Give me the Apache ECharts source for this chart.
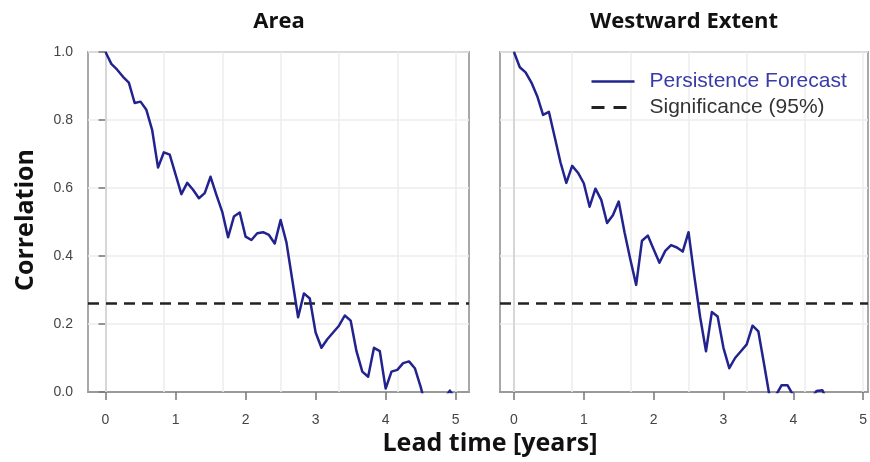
<!DOCTYPE html>
<html>
<head>
<meta charset="utf-8">
<script src="https://cdn.jsdelivr.net/npm/echarts@6/dist/echarts.min.js"></script>
<style>
  html, body { margin: 0; padding: 0; background: #fff; }
  #chart { width: 870px; height: 462px; }
</style>
</head>
<body>
<div id="chart"></div>
<script>
// monthly lead times, 0..60 months
var areaCorr = [
  1.00, 0.965, 0.948, 0.927, 0.91, 0.85, 0.854, 0.83, 0.77, 0.66,
  0.705, 0.698, 0.64, 0.582, 0.615, 0.595, 0.57, 0.585, 0.633, 0.58,
  0.53, 0.455, 0.516, 0.528, 0.457, 0.447, 0.467, 0.47, 0.462, 0.437,
  0.506, 0.44, 0.33, 0.22, 0.29, 0.275, 0.175, 0.13, 0.155, 0.175,
  0.195, 0.225, 0.21, 0.12, 0.06, 0.045, 0.13, 0.12, 0.01, 0.06,
  0.065, 0.085, 0.09, 0.07, 0.015, -0.05, -0.08, -0.06, -0.02, 0.004,
  -0.02
]
var westCorr = [
  1.00, 0.955, 0.94, 0.91, 0.87, 0.815, 0.824, 0.75, 0.675, 0.615,
  0.665, 0.645, 0.614, 0.545, 0.598, 0.565, 0.497, 0.52, 0.56, 0.47,
  0.39, 0.315, 0.445, 0.46, 0.42, 0.38, 0.415, 0.432, 0.425, 0.413,
  0.47, 0.34, 0.22, 0.12, 0.235, 0.222, 0.13, 0.07, 0.10, 0.12,
  0.14, 0.195, 0.178, 0.08, -0.02, -0.01, 0.02, 0.02, -0.01, -0.05,
  -0.04, -0.02, 0.003, 0.005, -0.03, -0.05, -0.06, -0.05, -0.05, -0.05,
  -0.05
]
var significance = 0.26
var xTicks = [0, 1, 2, 3, 4, 5]
var gridMonths = [0, 10, 20, 30, 40, 50, 60]
var panelTitles = ['Area', 'Westward Extent']

var lineColor = '#23238f'
var labelFont = 'Liberation Sans, Arial, sans-serif'
var titleFont = '"Open Sans", Lato, sans-serif'

function toPairs(arr) {
  return arr.map(function (v, m) { return [m / 12, v] })
}

var ranges = [[-0.25, 5.19], [-0.2, 5.07]]
var grids = [
  { left: 88, top: 52, width: 381, height: 340 },
  { left: 500, top: 52, width: 368, height: 340 }
]

var xAxes = [], yAxes = [], series = []
grids.forEach(function (g, i) {
  g.show = true
  g.borderColor = '#a8a8a8'
  g.borderWidth = 2
  xAxes.push({
    type: 'value', gridIndex: i, min: ranges[i][0], max: ranges[i][1],
    axisLine: { show: true, onZero: false, lineStyle: { color: '#9a9a9a', width: 2 } },
    axisTick: { show: true, customValues: xTicks, length: 8, lineStyle: { color: '#777', width: 1.5 } },
    axisLabel: { customValues: xTicks, margin: 21, fontSize: 14, color: '#444', fontFamily: labelFont },
    splitLine: { show: false }
  })
  yAxes.push({
    type: 'value', gridIndex: i, min: 0, max: 1, interval: 0.2,
    axisLine: { show: true, lineStyle: { color: '#777', width: 1.5 } },
    axisTick: { show: i === 0, length: 7, lineStyle: { color: '#777', width: 1.5 } },
    axisLabel: {
      show: i === 0, margin: 15, fontSize: 14, color: '#444', fontFamily: labelFont,
      formatter: function (v) { return v.toFixed(1) }
    },
    splitLine: { show: true, lineStyle: { color: '#ececec', width: 1.5 } }
  })
  series.push({
    name: 'Persistence Forecast', type: 'line', xAxisIndex: i, yAxisIndex: i,
    data: toPairs(i === 0 ? areaCorr : westCorr),
    showSymbol: false, symbol: 'none', clip: true, z: 5,
    lineStyle: { color: lineColor, width: 2.5, join: 'round' },
    itemStyle: { color: lineColor },
    markLine: {
      silent: true, symbol: 'none', label: { show: false },
      lineStyle: { color: '#ececec', width: 1.5, type: 'solid' },
      data: gridMonths.map(function (m) { return { xAxis: m / 12 } }),
      z: 1
    }
  })
  series.push({
    name: 'Significance (95%)', type: 'line', xAxisIndex: i, yAxisIndex: i,
    data: [[ranges[i][0], significance], [ranges[i][1], significance]],
    showSymbol: false, symbol: 'none', z: 4,
    lineStyle: { color: '#222', width: 2.5, type: [11, 7] },
    itemStyle: { color: '#222' }
  })
})

var chart = echarts.init(document.getElementById('chart'))
chart.setOption({
  animation: false,
  backgroundColor: '#fff',
  grid: grids,
  xAxis: xAxes,
  yAxis: yAxes,
  series: series,
  legend: {
    orient: 'vertical', left: 585, top: 66,
    itemWidth: 43, itemHeight: 14, itemGap: 5,
    itemStyle: { opacity: 0 },
    textStyle: { fontSize: 21, fontFamily: labelFont, padding: [0, 0, 0, 10] },
    data: [
      { name: 'Persistence Forecast', textStyle: { color: '#3a3aa8' }, lineStyle: { width: 2.5 } },
      { name: 'Significance (95%)', textStyle: { color: '#333' }, lineStyle: { width: 3, type: [13, 9] } }
    ]
  },
  graphic: [
    {
      type: 'text', x: 279, y: 22,
      style: { text: panelTitles[0], font: 'bold 22px ' + titleFont, fill: '#111', align: 'center', verticalAlign: 'middle' }
    },
    {
      type: 'text', x: 684, y: 22,
      style: { text: panelTitles[1], font: 'bold 22px ' + titleFont, fill: '#111', align: 'center', verticalAlign: 'middle' }
    },
    {
      type: 'text', x: 490, y: 444,
      style: { text: 'Lead time [years]', font: 'bold 25px ' + titleFont, fill: '#111', align: 'center', verticalAlign: 'middle' }
    },
    {
      type: 'text', x: 26, y: 220, rotation: Math.PI / 2,
      style: { text: 'Correlation', font: 'bold 25px ' + titleFont, fill: '#111', align: 'center', verticalAlign: 'middle' }
    }
  ]
})
</script>
</body>
</html>
